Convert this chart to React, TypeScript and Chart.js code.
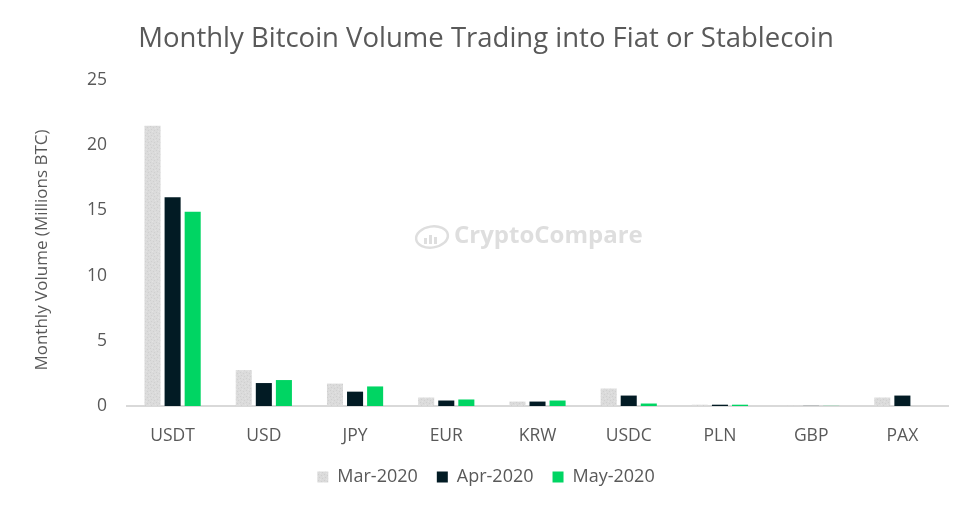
import React, { useEffect, useRef } from "react";
import { Chart, registerables } from "chart.js";

Chart.register(...registerables);

const categories = ["USDT", "USD", "JPY", "EUR", "KRW", "USDC", "PLN", "GBP", "PAX"];
const mar2020 = [21.5, 2.75, 1.72, 0.65, 0.34, 1.34, 0.1, 0.02, 0.65];
const apr2020 = [16.0, 1.76, 1.1, 0.42, 0.34, 0.8, 0.1, 0.01, 0.8];
const may2020 = [14.9, 1.99, 1.5, 0.5, 0.42, 0.19, 0.1, 0.01, 0];
const yTicks = [0, 5, 10, 15, 20, 25];

const FONT = "'Open Sans', 'Noto Sans', sans-serif";
const TEXT = "#595959";

function makePattern(): CanvasPattern | string {
  const c = document.createElement("canvas");
  c.width = 6;
  c.height = 6;
  const g = c.getContext("2d");
  if (!g) return "#d9d9d9";
  g.fillStyle = "#dbdbdb";
  g.fillRect(0, 0, 6, 6);
  g.fillStyle = "#cfcfcf";
  g.fillRect(0, 0, 1, 1);
  g.fillRect(3, 1, 1, 1);
  g.fillRect(1, 3, 1, 1);
  g.fillRect(4, 4, 1, 1);
  g.fillStyle = "#e3e3e3";
  g.fillRect(2, 5, 1, 1);
  g.fillRect(5, 2, 1, 1);
  return g.createPattern(c, "repeat") || "#d9d9d9";
}

const extras = {
  id: "extras",
  beforeDatasetsDraw(chart: any) {
    const { ctx } = chart;
    ctx.save();
    ctx.fillStyle = "#dedede";
    ctx.strokeStyle = "#dedede";
    ctx.font = `bold 24px ${FONT}`;
    ctx.textAlign = "left";
    ctx.textBaseline = "middle";
    ctx.fillText("CryptoCompare", 454, 236);
    ctx.lineWidth = 2.5;
    ctx.beginPath();
    ctx.ellipse(432, 237, 16, 10.5, -0.15, 0, Math.PI * 2);
    ctx.stroke();
    ctx.fillRect(424, 238, 3, 6);
    ctx.fillRect(429, 235, 3, 9);
    ctx.fillRect(434, 237, 3, 7);
    ctx.restore();
  },
  afterDraw(chart: any) {
    const { ctx } = chart;
    ctx.save();
    ctx.translate(42, 250);
    ctx.rotate(-Math.PI / 2);
    ctx.font = `17px ${FONT}`;
    ctx.fillStyle = TEXT;
    ctx.textAlign = "center";
    ctx.textBaseline = "middle";
    ctx.fillText("Monthly Volume (Millions BTC)", 0, 0);
    ctx.restore();
  },
};

export default function App() {
  const ref = useRef<HTMLCanvasElement>(null);
  useEffect(() => {
    document.body.style.margin = "0";
    const chart = new Chart(ref.current!, {
      type: "bar",
      data: {
        labels: categories,
        datasets: [
          { label: "Mar-2020", data: mar2020, backgroundColor: makePattern() as any },
          { label: "Apr-2020", data: apr2020, backgroundColor: "#021b24" },
          { label: "May-2020", data: may2020, backgroundColor: "#00d563" },
        ],
      },
      options: {
        animation: false,
        responsive: false,
        maintainAspectRatio: false,
        layout: { padding: { left: 24, right: 24, top: 23, bottom: 11 } },
        datasets: { bar: { categoryPercentage: 0.66, barPercentage: 0.8 } },
        plugins: {
          title: {
            display: true,
            text: "Monthly Bitcoin Volume Trading into Fiat or Stablecoin",
            color: TEXT,
            font: { family: FONT, size: 27.5, weight: "normal" },
            padding: { top: 0, bottom: 24 },
          },
          legend: {
            position: "bottom",
            labels: {
              color: TEXT,
              font: { family: FONT, size: 18 },
              boxWidth: 11,
              boxHeight: 11,
              padding: 19,
            },
          },
          tooltip: { enabled: false },
        },
        scales: {
          x: {
            grid: { display: false, drawTicks: false },
            border: { color: "#d9d9d9", width: 2 },
            ticks: { color: TEXT, font: { family: FONT, size: 17.5 }, padding: 20 },
            afterFit: (s: any) => {
              s.height = 43;
            },
          },
          y: {
            min: 0,
            max: 25,
            afterBuildTicks: (s: any) => {
              s.ticks = yTicks.map((v) => ({ value: v }));
            },
            afterFit: (s: any) => {
              s.width = 103;
            },
            grid: { display: false, drawTicks: false },
            border: { display: false },
            ticks: { color: TEXT, font: { family: FONT, size: 17.5 }, padding: 20 },
          },
        },
      },
      plugins: [extras],
    });
    return () => chart.destroy();
  }, []);
  return (
    <div style={{ position: "absolute", left: 0, top: 0, width: 972, height: 507 }}>
      <canvas ref={ref} width={972} height={507} />
    </div>
  );
}
